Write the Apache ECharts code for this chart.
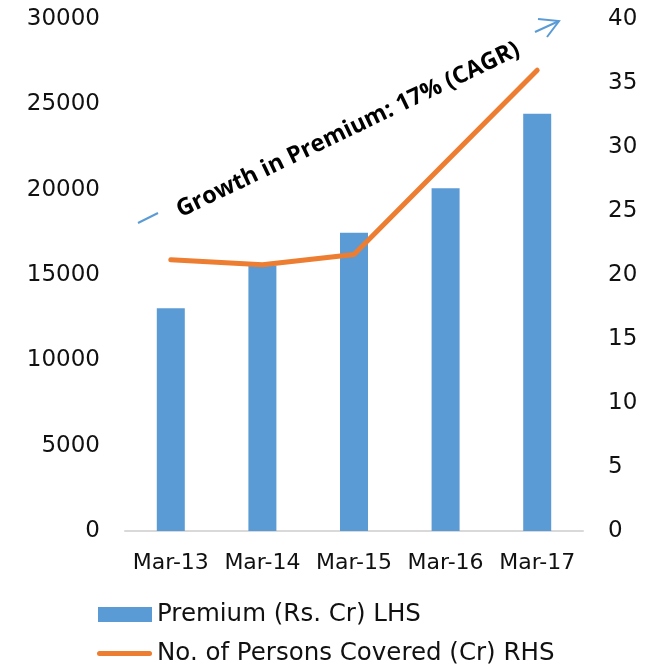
<!DOCTYPE html>
<html>
<head>
<meta charset="utf-8">
<script src="https://cdn.jsdelivr.net/npm/echarts@6/dist/echarts.min.js"></script>
<style>
  html, body { margin: 0; padding: 0; background: #fff; }
  #chart { width: 659px; height: 668px; }
</style>
</head>
<body>
<div id="chart"></div>
<script>
const categories = ['Mar-13', 'Mar-14', 'Mar-15', 'Mar-16', 'Mar-17']
const premium = [13050, 15550, 17480, 20080, 24450]
const personsCovered = [21.2, 20.8, 21.6, 28.8, 36.0]
const annotation = 'Growth in Premium: 17% (CAGR)'

const FONT = '"DejaVu Sans", sans-serif'
const blue = '#5B9BD5'
const orange = '#ED7D31'
const angle = 25.6 * Math.PI / 180

const legendText = { fontSize: 24.5, color: '#111', fontFamily: FONT }
const lineIcon = 'path://M2.5,0 L52.5,0 A2.5,2.5 0 0 1 52.5,5 L2.5,5 A2.5,2.5 0 0 1 2.5,0 Z'

const chart = echarts.init(document.getElementById('chart'))

chart.setOption({
  animation: false,
  textStyle: { fontFamily: FONT },
  grid: { left: 125, right: 76, top: 19, bottom: 137 },
  legend: [
    {
      left: 98, top: 602, padding: 0,
      itemWidth: 54, itemHeight: 15,
      textStyle: legendText,
      data: [{ name: 'Premium (Rs. Cr) LHS', icon: 'rect' }]
    },
    {
      left: 97, top: 641, padding: 0,
      itemWidth: 55, itemHeight: 15,
      textStyle: legendText,
      data: [{ name: 'No. of Persons Covered (Cr) RHS', icon: lineIcon }]
    }
  ],
  xAxis: {
    type: 'category',
    data: categories,
    axisLine: { lineStyle: { color: '#D9D9D9', width: 2 } },
    axisTick: { show: false },
    axisLabel: { color: '#111', fontSize: 22, margin: 21, interval: 0 }
  },
  yAxis: [
    {
      type: 'value',
      min: 0, max: 30000, interval: 5000,
      splitLine: { show: false },
      axisLine: { show: false },
      axisLabel: { color: '#111', fontSize: 23, margin: 25, formatter: v => String(v) }
    },
    {
      type: 'value',
      min: 0, max: 40, interval: 5,
      splitLine: { show: false },
      axisLine: { show: false },
      axisLabel: { color: '#111', fontSize: 23, margin: 25 }
    }
  ],
  series: [
    {
      name: 'Premium (Rs. Cr) LHS',
      type: 'bar',
      data: premium,
      barWidth: 28,
      itemStyle: { color: blue }
    },
    {
      name: 'No. of Persons Covered (Cr) RHS',
      type: 'line',
      yAxisIndex: 1,
      data: personsCovered,
      symbol: 'none',
      lineStyle: { color: orange, width: 5, cap: 'round' },
      itemStyle: { color: orange }
    }
  ],
  graphic: [
    {
      type: 'line',
      shape: { x1: 138, y1: 223, x2: 158, y2: 213 },
      style: { stroke: blue, lineWidth: 2 }
    },
    {
      type: 'line',
      shape: { x1: 535, y1: 32, x2: 559, y2: 21 },
      style: { stroke: blue, lineWidth: 2 }
    },
    {
      type: 'polyline',
      shape: { points: [[538, 19], [559, 21], [547, 37]] },
      style: { stroke: blue, lineWidth: 2, fill: null }
    },
    {
      type: 'text',
      x: 348, y: 130,
      rotation: angle,
      style: {
        text: annotation,
        fontSize: 23.5,
        fontWeight: 'bold',
        fontStyle: 'normal',
        fontFamily: '"Open Sans", sans-serif',
        fill: '#000',
        align: 'center',
        verticalAlign: 'middle'
      }
    }
  ]
})
</script>
</body>
</html>
